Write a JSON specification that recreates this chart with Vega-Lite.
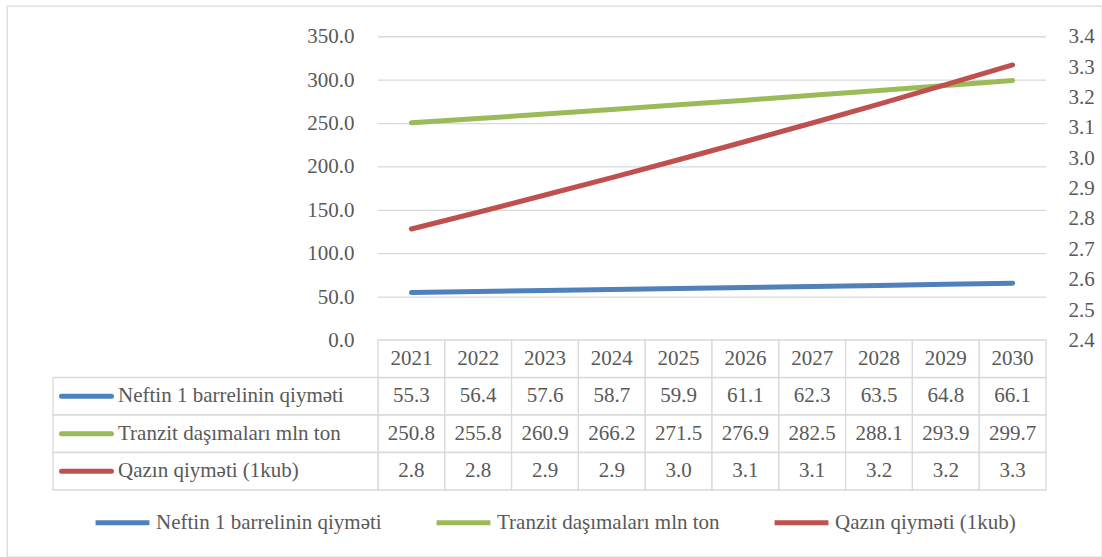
{
  "$schema": "https://vega.github.io/schema/vega-lite/v6.json",
  "width": 1095,
  "height": 551,
  "autosize": {"type": "none"},
  "padding": {"left": 7, "top": 6, "right": 0, "bottom": 0},
  "background": "white",
  "config": {
    "font": "Liberation Serif",
    "view": {"stroke": "#d9d9d9", "strokeWidth": 1.3},
    "text": {"color": "#595959", "fontSize": 21}
  },
  "datasets": {
    "main": [
      {"year": "2021", "series": "Neftin 1 barrelinin qiyməti", "value": 55.3},
      {"year": "2022", "series": "Neftin 1 barrelinin qiyməti", "value": 56.4},
      {"year": "2023", "series": "Neftin 1 barrelinin qiyməti", "value": 57.6},
      {"year": "2024", "series": "Neftin 1 barrelinin qiyməti", "value": 58.7},
      {"year": "2025", "series": "Neftin 1 barrelinin qiyməti", "value": 59.9},
      {"year": "2026", "series": "Neftin 1 barrelinin qiyməti", "value": 61.1},
      {"year": "2027", "series": "Neftin 1 barrelinin qiyməti", "value": 62.3},
      {"year": "2028", "series": "Neftin 1 barrelinin qiyməti", "value": 63.5},
      {"year": "2029", "series": "Neftin 1 barrelinin qiyməti", "value": 64.8},
      {"year": "2030", "series": "Neftin 1 barrelinin qiyməti", "value": 66.1},
      {"year": "2021", "series": "Tranzit daşımaları mln ton", "value": 250.8},
      {"year": "2022", "series": "Tranzit daşımaları mln ton", "value": 255.8},
      {"year": "2023", "series": "Tranzit daşımaları mln ton", "value": 260.9},
      {"year": "2024", "series": "Tranzit daşımaları mln ton", "value": 266.2},
      {"year": "2025", "series": "Tranzit daşımaları mln ton", "value": 271.5},
      {"year": "2026", "series": "Tranzit daşımaları mln ton", "value": 276.9},
      {"year": "2027", "series": "Tranzit daşımaları mln ton", "value": 282.5},
      {"year": "2028", "series": "Tranzit daşımaları mln ton", "value": 288.1},
      {"year": "2029", "series": "Tranzit daşımaları mln ton", "value": 293.9},
      {"year": "2030", "series": "Tranzit daşımaları mln ton", "value": 299.7},
      {"year": "2021", "series": "Qazın qiyməti (1kub)", "value": 2.767},
      {"year": "2022", "series": "Qazın qiyməti (1kub)", "value": 2.822},
      {"year": "2023", "series": "Qazın qiyməti (1kub)", "value": 2.879},
      {"year": "2024", "series": "Qazın qiyməti (1kub)", "value": 2.936},
      {"year": "2025", "series": "Qazın qiyməti (1kub)", "value": 2.995},
      {"year": "2026", "series": "Qazın qiyməti (1kub)", "value": 3.055},
      {"year": "2027", "series": "Qazın qiyməti (1kub)", "value": 3.116},
      {"year": "2028", "series": "Qazın qiyməti (1kub)", "value": 3.178},
      {"year": "2029", "series": "Qazın qiyməti (1kub)", "value": 3.242},
      {"year": "2030", "series": "Qazın qiyməti (1kub)", "value": 3.307}
    ],
    "grid": [
      {"v": 50}, {"v": 100}, {"v": 150}, {"v": 200}, {"v": 250}, {"v": 300}, {"v": 350}
    ]
  },
  "data": {"name": "main"},
  "layer": [
    {
      "data": {"name": "grid"},
      "mark": {"type": "rule", "color": "#d9d9d9", "strokeWidth": 1.3},
      "encoding": {
        "x": {"datum": "2021", "type": "ordinal", "bandPosition": 0, "axis": null},
        "x2": {"datum": "2030", "bandPosition": 1},
        "y": {"field": "v", "type": "quantitative", "scale": {"domain": [-249.4, 385.4], "nice": false, "zero": false}, "axis": null}
      }
    },
    {
      "transform": [{"filter": {"field": "series", "oneOf": ["Neftin 1 barrelinin qiyməti", "Tranzit daşımaları mln ton"]}}],
      "mark": {"type": "line", "strokeWidth": 5, "strokeCap": "round"},
      "encoding": {
        "x": {
          "field": "year", "type": "ordinal",
          "scale": {"type": "band", "paddingInner": 0, "paddingOuter": 0, "range": [371, 1039], "round": false},
          "axis": null
        },
        "y": {
          "field": "value", "type": "quantitative",
          "scale": {"domain": [-249.4, 385.4], "nice": false, "zero": false},
          "axis": {"orient": "left", "offset": -371, "values": [0, 50, 100, 150, 200, 250, 300, 350], "format": ".1f", "domain": false, "ticks": false, "grid": false, "labelPadding": 24, "labelFontSize": 21, "labelColor": "#595959", "labelOverlap": false, "title": null}
        },
        "color": {
          "field": "series", "type": "nominal",
          "scale": {"domain": ["Neftin 1 barrelinin qiyməti", "Tranzit daşımaları mln ton", "Qazın qiyməti (1kub)"], "range": ["#4f81bd", "#9bbb59", "#c0504d"]},
          "legend": {"orient": "none", "legendX": 86, "legendY": 487, "direction": "horizontal", "title": null, "symbolType": "stroke", "symbolSize": 2900, "symbolStrokeWidth": 5, "labelFontSize": 21, "labelColor": "#595959", "labelOffset": 4, "columnPadding": 44, "labelLimit": 400}
        }
      }
    },
    {
      "transform": [{"filter": {"field": "series", "equal": "Qazın qiyməti (1kub)"}}],
      "mark": {"type": "line", "strokeWidth": 5, "strokeCap": "round"},
      "encoding": {
        "x": {"field": "year", "type": "ordinal", "axis": null},
        "y": {
          "field": "value", "type": "quantitative",
          "scale": {"domain": [1.6874, 3.501], "nice": false, "zero": false},
          "axis": {"orient": "right", "offset": -56, "values": [2.4, 2.5, 2.6, 2.7, 2.8, 2.9, 3.0, 3.1, 3.2, 3.3, 3.4], "format": ".1f", "domain": false, "ticks": false, "grid": false, "labelPadding": 22, "labelFontSize": 21, "labelColor": "#595959", "labelOverlap": false, "title": null}
        },
        "color": {"field": "series", "type": "nominal"}
      }
    },
    {
      "mark": {"type": "rect", "fill": "white", "stroke": "#d9d9d9", "strokeWidth": 1.3},
      "encoding": {
        "x": {"field": "year", "type": "ordinal", "axis": null},
        "y": {
          "field": "series", "type": "nominal",
          "scale": {"domain": ["hdr", "Neftin 1 barrelinin qiyməti", "Tranzit daşımaları mln ton", "Qazın qiyməti (1kub)"], "paddingInner": 0, "paddingOuter": 0, "range": [334, 484], "round": false},
          "axis": null
        }
      }
    },
    {
      "transform": [{"filter": {"field": "series", "equal": "Neftin 1 barrelinin qiyməti"}}],
      "mark": {"type": "rect", "fill": "white", "stroke": "#d9d9d9", "strokeWidth": 1.3},
      "encoding": {
        "x": {"field": "year", "type": "ordinal", "axis": null},
        "y": {
          "datum": "hdr", "type": "nominal",
          "scale": {"domain": ["hdr", "Neftin 1 barrelinin qiyməti", "Tranzit daşımaları mln ton", "Qazın qiyməti (1kub)"], "paddingInner": 0, "paddingOuter": 0, "range": [334, 484], "round": false},
          "axis": null
        }
      }
    },
    {
      "transform": [{"filter": {"field": "year", "equal": "2021"}}],
      "mark": {"type": "rect", "fill": "white", "stroke": "#d9d9d9", "strokeWidth": 1.3},
      "encoding": {
        "x": {"datum": "2021", "type": "ordinal", "bandPosition": -4.865, "axis": null},
        "x2": {"datum": "2021", "bandPosition": 0},
        "y": {
          "field": "series", "type": "nominal",
          "scale": {"domain": ["hdr", "Neftin 1 barrelinin qiyməti", "Tranzit daşımaları mln ton", "Qazın qiyməti (1kub)"], "paddingInner": 0, "paddingOuter": 0, "range": [334, 484], "round": false},
          "axis": null
        }
      }
    },
    {
      "mark": {"type": "text", "baseline": "middle", "align": "center"},
      "encoding": {
        "x": {"field": "year", "type": "ordinal", "axis": null},
        "y": {
          "field": "series", "type": "nominal",
          "scale": {"domain": ["hdr", "Neftin 1 barrelinin qiyməti", "Tranzit daşımaları mln ton", "Qazın qiyməti (1kub)"], "paddingInner": 0, "paddingOuter": 0, "range": [334, 484], "round": false},
          "axis": null
        },
        "text": {"field": "value", "type": "quantitative", "format": ".1f"}
      }
    },
    {
      "transform": [{"filter": {"field": "series", "equal": "Neftin 1 barrelinin qiyməti"}}],
      "mark": {"type": "text", "baseline": "middle", "align": "center"},
      "encoding": {
        "x": {"field": "year", "type": "ordinal", "axis": null},
        "y": {
          "datum": "hdr", "type": "nominal",
          "scale": {"domain": ["hdr", "Neftin 1 barrelinin qiyməti", "Tranzit daşımaları mln ton", "Qazın qiyməti (1kub)"], "paddingInner": 0, "paddingOuter": 0, "range": [334, 484], "round": false},
          "axis": null
        },
        "text": {"field": "year", "type": "nominal"}
      }
    },
    {
      "transform": [{"filter": {"field": "year", "equal": "2021"}}],
      "mark": {"type": "rule", "strokeWidth": 5, "strokeCap": "round"},
      "encoding": {
        "x": {"datum": "2021", "type": "ordinal", "bandPosition": -4.738, "axis": null},
        "x2": {"datum": "2021", "bandPosition": -3.99},
        "y": {
          "field": "series", "type": "nominal",
          "scale": {"domain": ["hdr", "Neftin 1 barrelinin qiyməti", "Tranzit daşımaları mln ton", "Qazın qiyməti (1kub)"], "paddingInner": 0, "paddingOuter": 0, "range": [334, 484], "round": false},
          "axis": null
        },
        "color": {"field": "series", "type": "nominal"}
      }
    },
    {
      "transform": [{"filter": {"field": "year", "equal": "2021"}}],
      "mark": {"type": "text", "baseline": "middle", "align": "left"},
      "encoding": {
        "x": {"datum": "2021", "type": "ordinal", "bandPosition": -3.892, "axis": null},
        "y": {
          "field": "series", "type": "nominal",
          "scale": {"domain": ["hdr", "Neftin 1 barrelinin qiyməti", "Tranzit daşımaları mln ton", "Qazın qiyməti (1kub)"], "paddingInner": 0, "paddingOuter": 0, "range": [334, 484], "round": false},
          "axis": null
        },
        "text": {"field": "series", "type": "nominal"}
      }
    }
  ],
  "resolve": {"scale": {"y": "independent"}, "axis": {"y": "independent"}}
}
